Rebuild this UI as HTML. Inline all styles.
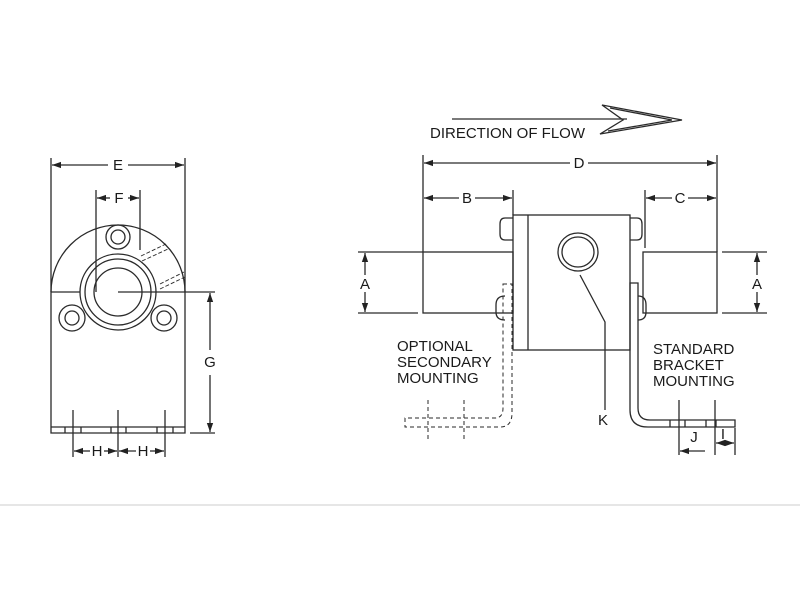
<!DOCTYPE html>
<html><head><meta charset="utf-8"><style>
html,body{margin:0;padding:0;background:#fff}
svg{display:block}
text{font-family:"Liberation Sans",Arial,sans-serif;fill:#1a1a1a}
</style></head><body>
<svg width="800" height="600" viewBox="0 0 800 600" xmlns="http://www.w3.org/2000/svg">
<defs>
<marker id="ar" viewBox="0 0 10 10" refX="10" refY="5" markerWidth="7" markerHeight="7" orient="auto-start-reverse"><path d="M0,1.5 L10,5 L0,8.5 z" fill="#222"/></marker>
</defs>
<g stroke="#2a2a2a" stroke-width="1.3" fill="none">
<!-- LEFT VIEW -->
<path d="M51,292 A67,67 0 0 1 185,292"/>
<path d="M51,292 L51,433 L185,433 L185,292"/>
<line x1="51" y1="292" x2="80" y2="292"/>
<line x1="51" y1="427" x2="185" y2="427"/>
<circle cx="118" cy="292" r="38"/>
<circle cx="118" cy="292" r="33"/>
<circle cx="118" cy="292" r="24"/>
<circle cx="118" cy="237" r="12"/><circle cx="118" cy="237" r="7"/>
<circle cx="72" cy="318" r="13"/><circle cx="72" cy="318" r="7"/>
<circle cx="164" cy="318" r="13"/><circle cx="164" cy="318" r="7"/>
<g stroke-dasharray="4,2" stroke-width="0.9">
<line x1="141" y1="256" x2="166" y2="244"/><line x1="142" y1="261" x2="168" y2="249"/>
<line x1="160" y1="284" x2="184" y2="272"/><line x1="160" y1="289" x2="185" y2="277"/>
</g>
<!-- E -->
<line x1="51" y1="158" x2="51" y2="292"/><line x1="185" y1="158" x2="185" y2="292"/>
<line x1="52" y1="165" x2="108" y2="165" marker-start="url(#ar)"/>
<line x1="128" y1="165" x2="184" y2="165" marker-end="url(#ar)"/>
<!-- F -->
<line x1="96" y1="190" x2="96" y2="292"/><line x1="140" y1="190" x2="140" y2="250"/>
<line x1="97" y1="198" x2="110" y2="198" marker-start="url(#ar)"/>
<line x1="128" y1="198" x2="139" y2="198" marker-end="url(#ar)"/>
<!-- G -->
<line x1="118" y1="292" x2="215" y2="292"/>
<line x1="190" y1="433" x2="215" y2="433"/>
<line x1="210" y1="293" x2="210" y2="350" marker-start="url(#ar)"/>
<line x1="210" y1="375" x2="210" y2="432" marker-end="url(#ar)"/>
<!-- H -->
<line x1="73" y1="410" x2="73" y2="457"/><line x1="118" y1="410" x2="118" y2="457"/><line x1="165" y1="410" x2="165" y2="457"/>
<line x1="65" y1="427" x2="65" y2="433"/><line x1="81" y1="427" x2="81" y2="433"/>
<line x1="111" y1="427" x2="111" y2="433"/><line x1="126" y1="427" x2="126" y2="433"/>
<line x1="157" y1="427" x2="157" y2="433"/><line x1="173" y1="427" x2="173" y2="433"/>
<line x1="74" y1="451" x2="90" y2="451" marker-start="url(#ar)"/>
<line x1="104" y1="451" x2="117" y2="451" marker-end="url(#ar)"/>
<line x1="119" y1="451" x2="136" y2="451" marker-start="url(#ar)"/>
<line x1="150" y1="451" x2="164" y2="451" marker-end="url(#ar)"/>

<!-- FLOW ARROW -->
<line x1="452" y1="119" x2="627" y2="119"/>
<path d="M602,105 L682,120 L600,134 L623,120 Z"/>
<path d="M610,108 L672,120 L608,131"/>

<!-- RIGHT VIEW -->
<rect x="513" y="215" width="117" height="135"/>
<line x1="528" y1="215" x2="528" y2="350"/>
<rect x="423" y="252" width="90" height="61"/>
<rect x="643" y="252" width="74" height="61"/>
<ellipse cx="578" cy="252" rx="20" ry="19"/>
<ellipse cx="578" cy="252" rx="16" ry="15"/>
<path d="M513,218 L505,218 Q500,218 500,224 L500,234 Q500,240 505,240 L513,240"/>
<path d="M630,218 L637,218 Q642,218 642,224 L642,234 Q642,240 637,240 L630,240"/>
<path d="M505,296 Q496,296 496,305 L496,312 Q496,320 505,320"/>
<path d="M638,296 Q646,296 646,305 L646,312 Q646,320 638,320"/>
<!-- standard bracket -->
<path d="M630,283 L638,283 L638,408 Q638,420 650,420 L735,420 L735,427 L648,427 Q630,427 630,410 Z"/>
<line x1="670" y1="420" x2="670" y2="427"/><line x1="685" y1="420" x2="685" y2="427"/>
<line x1="706" y1="420" x2="706" y2="427"/><line x1="716" y1="420" x2="716" y2="427"/>
<!-- optional dashed bracket -->
<g stroke-dasharray="4,3" stroke-width="1">
<path d="M503,284 L512,284 L512,413 Q512,427 500,427 L405,427 L405,418 L495,418 Q503,418 503,408 Z"/>
<line x1="428" y1="400" x2="428" y2="442"/><line x1="464" y1="400" x2="464" y2="442"/>
</g>
<!-- K leader -->
<polyline points="580,275 605,322 605,410"/>
<!-- D -->
<line x1="423" y1="155" x2="423" y2="252"/><line x1="717" y1="155" x2="717" y2="252"/>
<line x1="424" y1="163" x2="570" y2="163" marker-start="url(#ar)"/>
<line x1="588" y1="163" x2="716" y2="163" marker-end="url(#ar)"/>
<!-- B -->
<line x1="513" y1="190" x2="513" y2="215"/>
<line x1="424" y1="198" x2="459" y2="198" marker-start="url(#ar)"/>
<line x1="475" y1="198" x2="512" y2="198" marker-end="url(#ar)"/>
<!-- C -->
<line x1="645" y1="190" x2="645" y2="248"/>
<line x1="646" y1="198" x2="672" y2="198" marker-start="url(#ar)"/>
<line x1="688" y1="198" x2="716" y2="198" marker-end="url(#ar)"/>
<!-- A left -->
<line x1="358" y1="252" x2="423" y2="252"/><line x1="358" y1="313" x2="418" y2="313"/>
<line x1="365" y1="253" x2="365" y2="275" marker-start="url(#ar)"/>
<line x1="365" y1="292" x2="365" y2="312" marker-end="url(#ar)"/>
<!-- A right -->
<line x1="722" y1="252" x2="767" y2="252"/><line x1="722" y1="313" x2="767" y2="313"/>
<line x1="757" y1="253" x2="757" y2="275" marker-start="url(#ar)"/>
<line x1="757" y1="292" x2="757" y2="312" marker-end="url(#ar)"/>
<!-- J / I -->
<line x1="679" y1="400" x2="679" y2="455"/><line x1="715" y1="400" x2="715" y2="455"/><line x1="735" y1="428" x2="735" y2="455"/>
<line x1="680" y1="451" x2="705" y2="451" marker-start="url(#ar)"/>
<line x1="716" y1="443" x2="734" y2="443" marker-start="url(#ar)" marker-end="url(#ar)"/>
</g>
<line x1="0" y1="505" x2="800" y2="505" stroke="#ddd" stroke-width="1.5"/>
<g font-size="15">
<text x="118" y="170" text-anchor="middle">E</text>
<text x="119" y="203" text-anchor="middle">F</text>
<text x="210" y="367" text-anchor="middle">G</text>
<text x="97" y="456" text-anchor="middle">H</text>
<text x="143" y="456" text-anchor="middle">H</text>
<text x="430" y="138">DIRECTION OF FLOW</text>
<text x="579" y="168" text-anchor="middle">D</text>
<text x="467" y="203" text-anchor="middle">B</text>
<text x="680" y="203" text-anchor="middle">C</text>
<text x="365" y="289" text-anchor="middle">A</text>
<text x="757" y="289" text-anchor="middle">A</text>
<text x="603" y="425" text-anchor="middle">K</text>
<text x="694" y="442" text-anchor="middle">J</text>
<text x="723" y="439" text-anchor="middle">I</text>
<text x="397" y="351">OPTIONAL</text>
<text x="397" y="367">SECONDARY</text>
<text x="397" y="383">MOUNTING</text>
<text x="653" y="354">STANDARD</text>
<text x="653" y="370">BRACKET</text>
<text x="653" y="386">MOUNTING</text>
</g>
</svg>
</body></html>
